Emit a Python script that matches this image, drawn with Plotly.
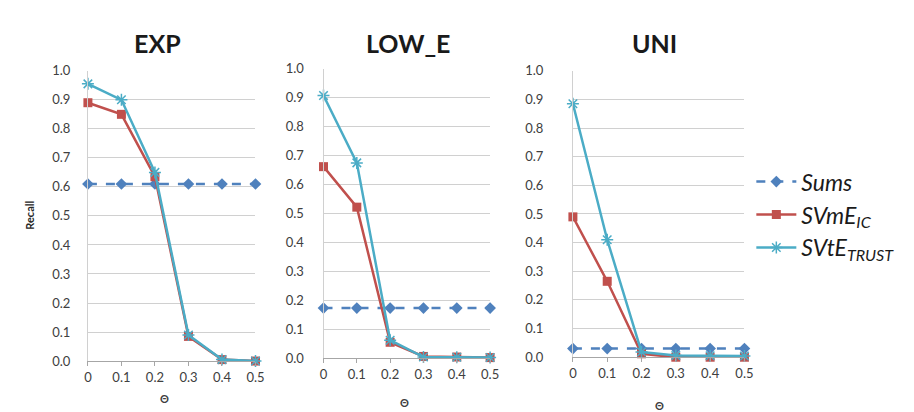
import plotly.graph_objects as go

theta = [0, 0.1, 0.2, 0.3, 0.4, 0.5]
theta_labels = ["0", "0.1", "0.2", "0.3", "0.4", "0.5"]
panels = ["EXP", "LOW_E", "UNI"]

sums_exp = [0.61, 0.61, 0.61, 0.61, 0.61, 0.61]
svme_exp = [0.89, 0.85, 0.635, 0.085, 0.005, 0.0]
svte_exp = [0.955, 0.90, 0.65, 0.09, 0.005, 0.0]

sums_low = [0.173, 0.173, 0.173, 0.173, 0.173, 0.173]
svme_low = [0.662, 0.522, 0.055, 0.006, 0.004, 0.002]
svte_low = [0.908, 0.675, 0.062, 0.004, 0.003, 0.002]

sums_uni = [0.03, 0.03, 0.03, 0.03, 0.03, 0.03]
svme_uni = [0.49, 0.265, 0.012, 0.0, 0.0, 0.0]
svte_uni = [0.885, 0.41, 0.018, 0.006, 0.005, 0.004]

names = ["<i>Sums</i>", "<i>SVmE<sub>IC</sub></i>", "<i>SVtE<sub>TRUST</sub></i>"]
colors = ["#4F81BD", "#C0504D", "#4BACC6"]

W, H = 914, 412
# pixel boxes: (x0, x1, ytop, ybottom)
boxes = [(77, 247, 57, 359), (316, 485, 55, 356), (569, 743, 57, 355)]
standoffs = [14, 16, 26]

data = [(sums_exp, svme_exp, svte_exp), (sums_low, svme_low, svte_low), (sums_uni, svme_uni, svte_uni)]

fig = go.Figure()
FONT = "Lato, 'Open Sans', sans-serif"

for i, (series, box) in enumerate(zip(data, boxes)):
    xa = "x" if i == 0 else f"x{i+1}"
    ya = "y" if i == 0 else f"y{i+1}"
    s, m, t = series
    fig.add_trace(go.Scatter(x=theta, y=s, xaxis=xa, yaxis=ya, name=names[0], legendgroup="a",
                             showlegend=(i == 0), mode="lines+markers", cliponaxis=False,
                             line=dict(color=colors[0], width=2.5, dash="dash"),
                             marker=dict(symbol="diamond", size=9, color=colors[0])))
    fig.add_trace(go.Scatter(x=theta, y=m, xaxis=xa, yaxis=ya, name=names[1], legendgroup="b",
                             showlegend=(i == 0), mode="lines+markers", cliponaxis=False,
                             line=dict(color=colors[1], width=2.5),
                             marker=dict(symbol="square", size=9, color=colors[1])))
    fig.add_trace(go.Scatter(x=theta, y=t, xaxis=xa, yaxis=ya, name=names[2], legendgroup="c",
                             showlegend=(i == 0), mode="lines+markers", cliponaxis=False,
                             line=dict(color=colors[2], width=2.5),
                             marker=dict(symbol="asterisk-open", size=10,
                                         line=dict(color=colors[2], width=1.5))))
    x0, x1, yt, yb = box
    xkey = "xaxis" if i == 0 else f"xaxis{i+1}"
    ykey = "yaxis" if i == 0 else f"yaxis{i+1}"
    fig.layout[xkey] = dict(domain=[x0 / W, x1 / W], anchor=ya, range=[0, 0.5],
                            tickvals=theta, ticktext=theta_labels, showgrid=False,
                            zeroline=False, showline=True, linecolor="#A6A6A6", linewidth=1,
                            ticks="outside", ticklen=4, tickcolor="#A6A6A6",
                            tickfont=dict(family=FONT, size=13, color="#404040"),
                            fixedrange=True)
    fig.layout[ykey] = dict(domain=[(H - yb) / H, (H - yt) / H], anchor=xa, range=[0, 1.0],
                            dtick=0.1, tick0=0, tickformat=".1f", showgrid=True,
                            gridcolor="#D0D0D0", gridwidth=1.3, zeroline=False,
                            showline=True, linecolor="#D0D0D0", linewidth=1,
                            ticklabelstandoff=standoffs[i],
                            tickfont=dict(family=FONT, size=13, color="#404040"),
                            fixedrange=True)

annotations = []
titles_pos = [(148, 28), (402, 28), (652, 28)]
for name, (px, py) in zip(panels, titles_pos):
    annotations.append(dict(text=f"<b>{name}</b>", x=px / W, y=1 - py / H, xref="paper", yref="paper",
                            showarrow=False, xanchor="center", yanchor="middle",
                            font=dict(family=FONT, size=25, color="#1a1a1a")))
theta_pos = [(155, 398), (398, 402), (657, 405)]
for px, py in theta_pos:
    annotations.append(dict(text="<b>Θ</b>", x=px / W, y=1 - py / H, xref="paper", yref="paper",
                            showarrow=False, xanchor="center", yanchor="middle",
                            font=dict(family=FONT, size=11, color="#404040")))
annotations.append(dict(text="<b>Recall</b>", x=18 / W, y=1 - 207 / H, xref="paper", yref="paper",
                        showarrow=False, textangle=-90, xanchor="center", yanchor="middle",
                        font=dict(family=FONT, size=11, color="#262626")))

fig.update_layout(
    width=W, height=H, autosize=False,
    margin=dict(l=0, r=0, t=0, b=0),
    paper_bgcolor="white", plot_bgcolor="white",
    annotations=annotations,
    showlegend=True,
    legend=dict(x=750 / W, y=1 - 150 / H, xanchor="left", yanchor="top",
                font=dict(family=FONT, size=23, color="#1a1a1a"),
                bgcolor="rgba(0,0,0,0)", tracegroupgap=0, itemwidth=40),
)

fig.write_html("out.html")
